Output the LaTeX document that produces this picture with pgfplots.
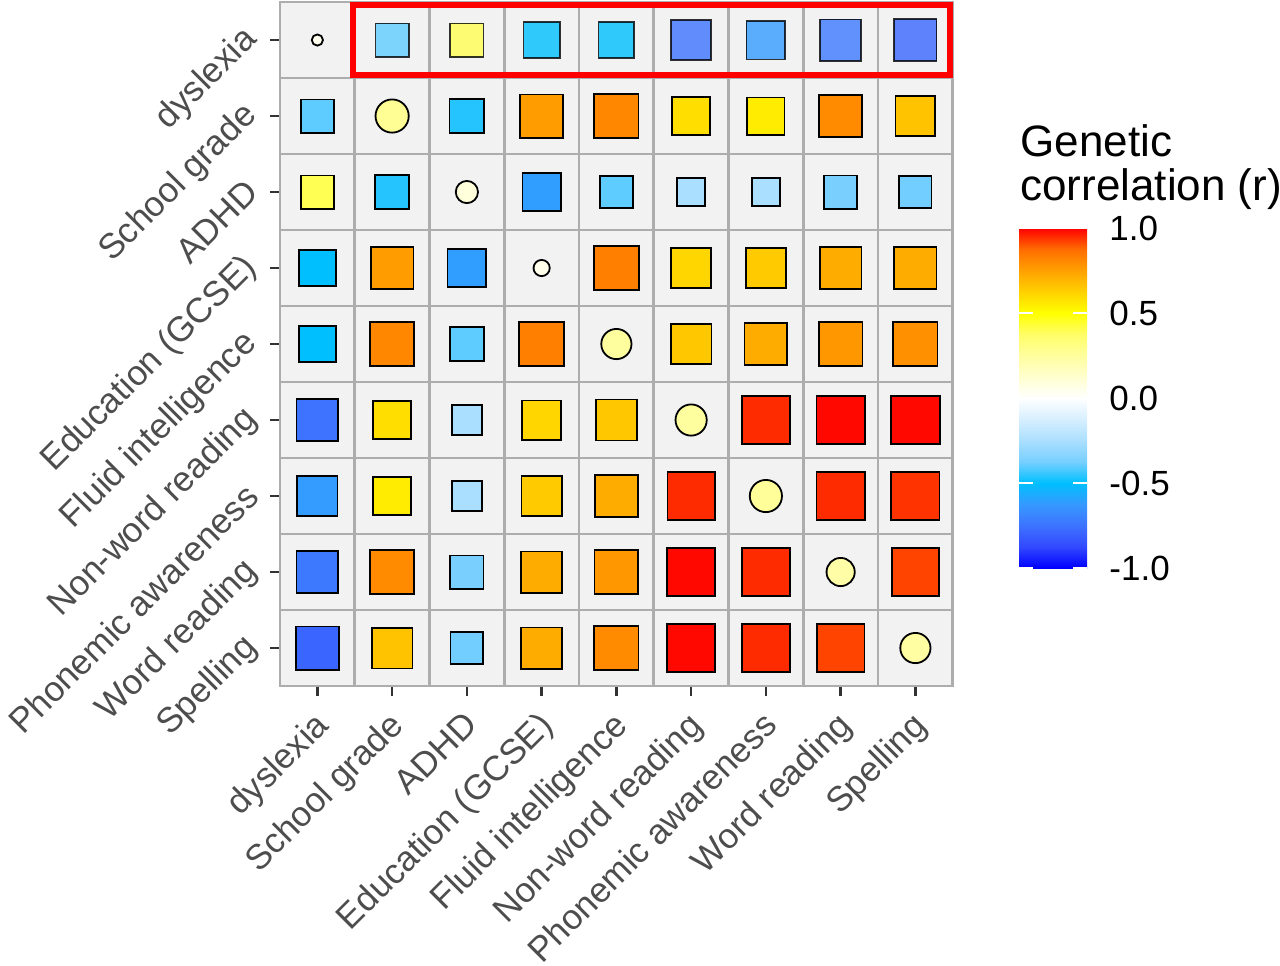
\documentclass[border=0pt]{standalone}
\usepackage{fontspec}
\setmainfont{Liberation Sans}
\usepackage{pgfplots}
\usepackage{pgfplotstable}
\pgfplotsset{compat=1.18}

\definecolor{cellbg}{HTML}{F2F2F2}
\definecolor{cellline}{HTML}{ADADAD}
\definecolor{labgray}{HTML}{4D4D4D}
\definecolor{tickgray}{HTML}{333333}

% blue - deepskyblue - white - yellow - red, spaced like a Lab gradient
\pgfplotsset{colormap={gencor}{
  rgb255=(0,0,255) rgb255=(51,73,255) rgb255=(61,115,255) rgb255=(54,153,255)
  rgb255=(0,191,255) rgb255=(119,207,255) rgb255=(171,223,255) rgb255=(215,239,255)
  rgb255=(255,255,255) rgb255=(255,255,207) rgb255=(255,254,158) rgb255=(255,254,103)
  rgb255=(255,255,0) rgb255=(255,209,0) rgb255=(255,161,0) rgb255=(255,108,0)
  rgb255=(255,0,0)}}

% x = column, y = row, r = genetic correlation, s = marker size (px)
\pgfplotstableread{
x y r s
1 2 -0.40 35
3 2 -0.46 36.5
4 2 0.76 45
5 2 0.81 46
6 2 0.59 40
7 2 0.55 39
8 2 0.80 44.5
9 2 0.66 41.5
1 3 0.40 35
2 3 -0.46 36
4 3 -0.61 40
5 3 -0.40 34.5
6 3 -0.25 30
7 3 -0.25 30
8 3 -0.37 35
9 3 -0.38 34
1 4 -0.50 38.5
2 4 0.76 44.5
3 4 -0.61 40.5
5 4 0.83 46.5
6 4 0.61 41.5
7 4 0.64 41.5
8 4 0.72 43.5
9 4 0.72 44
1 5 -0.50 38.4
2 5 0.81 45.5
3 5 -0.40 35.4
4 5 0.83 46.5
6 5 0.65 42.4
7 5 0.72 44.5
8 5 0.77 45.4
9 5 0.79 46
1 6 -0.75 43.5
2 6 0.59 40.2
3 6 -0.25 31.4
4 6 0.61 41
5 6 0.65 42.8
7 6 0.95 49.5
8 6 0.99 50
9 6 0.99 50.5
1 7 -0.62 42.2
2 7 0.55 40.2
3 7 -0.25 31.4
4 7 0.64 42
5 7 0.72 44.3
6 7 0.95 49.2
8 7 0.95 50
9 7 0.94 50
1 8 -0.73 43.5
2 8 0.80 45.5
3 8 -0.37 35
4 8 0.72 43
5 8 0.77 45.5
6 8 0.99 49.6
7 8 0.95 49.6
9 8 0.92 49.2
1 9 -0.79 45
2 9 0.66 42.6
3 9 -0.38 34.5
4 9 0.72 43
5 9 0.80 46
6 9 0.99 49.6
7 9 0.95 49.6
8 9 0.92 49.6
}\offdiag

\pgfplotstableread{
x y r s
2 1 -0.40 35
3 1 0.40 35
4 1 -0.50 38
5 1 -0.50 37.5
6 1 -0.75 42
7 1 -0.62 40.6
8 1 -0.73 43
9 1 -0.79 44
}\toprow

\pgfplotstableread{
x y r s
1 1 0.04 13
2 2 0.27 35
3 3 0.09 24
4 4 0.05 18
5 5 0.25 32
6 6 0.25 33
7 7 0.26 34
8 8 0.23 30
9 9 0.24 32
}\diag

\pgfplotsset{
  cellmarks/.style={
    only marks, scatter, line width=0.9pt,
    point meta=\thisrow{r},
    scatter/use mapped color={draw=black, fill=mapped color},
    visualization depends on={\thisrow{s}\as\sz},
    scatter/@pre marker code/.append style={/tikz/mark size=\sz*0.25pt-0.45pt},
  },
}

\begin{document}
\begin{tikzpicture}
\useasboundingbox (-140pt,-139.5pt) rectangle (500pt,343pt);
\begin{axis}[
  scale only axis, width=336.4pt, height=342pt,
  xmin=0.5, xmax=9.5, ymin=0.5, ymax=9.5, y dir=reverse,
  axis background/.style={fill=cellbg},
  xtick={1,...,9}, ytick={1,...,9},
  xticklabels={dyslexia, School grade, ADHD, Education (GCSE), Fluid intelligence, Non-word reading, Phonemic awareness, Word reading, Spelling},
  yticklabels={dyslexia, School grade, ADHD, Education (GCSE), Fluid intelligence, Non-word reading, Phonemic awareness, Word reading, Spelling},
  minor xtick={0.5,1.5,...,9.5}, minor ytick={0.5,1.5,...,9.5},
  xminorgrids, yminorgrids,
  minor grid style={cellline, line width=1.4pt},
  minor tick length=0pt,
  axis line style={cellline, line width=1.4pt},
  tick pos=left, tick align=outside, major tick length=5pt,
  major tick style={tickgray, line width=1.2pt},
  xticklabel style={xshift=-2.5pt, yshift=-6.5pt, rotate=45, anchor=north east,
    inner sep=0pt, text=labgray, font=\fontsize{17.5pt}{21pt}\selectfont},
  yticklabel style={xshift=-9pt, yshift=2.9pt, rotate=45, anchor=east,
    inner sep=0pt, text=labgray, font=\fontsize{17.5pt}{21pt}\selectfont},
  colormap name=gencor, point meta min=-1, point meta max=1,
  colorbar, colorbar/width=34pt,
  colorbar style={
    scale only axis, width=34pt, height=170pt,
    at={(parent axis.north east)}, anchor=north west, xshift=24.6pt, yshift=-113pt,
    axis on top, axis line style={draw=none},
    ytick={-1,-0.5,0,0.5,1}, yticklabels={-1.0,-0.5,0.0,0.5,1.0},
    minor ytick={},
    tick pos=both, yticklabel pos=right,
    tick align=inside, major tick length=6.8pt,
    major tick style={white, line width=0.7pt},
    yticklabel style={rotate=0, anchor=west, inner sep=0pt, xshift=11pt, yshift=0pt, text=black,
      font=\fontsize{17.5pt}{21pt}\selectfont},
  },
  clip=false,
]
\addplot[cellmarks, mark=square*] table[x=x, y=y] {\offdiag};
\addplot[cellmarks, mark=square*, fill opacity=0.8, draw opacity=0.8] table[x=x, y=y] {\toprow};
\addplot[cellmarks, mark=*] table[x=x, y=y] {\diag};
\draw[red, line width=3pt] (axis cs:1.48,0.533) rectangle (axis cs:9.46,1.454);
\end{axis}
\node[anchor=base west, inner sep=0pt, font=\fontsize{22pt}{26pt}\selectfont] at (370pt,264.6pt) {Genetic};
\node[anchor=base west, inner sep=0pt, font=\fontsize{22pt}{26pt}\selectfont] at (370pt,242.6pt) {correlation (r)};
\end{tikzpicture}
\end{document}
